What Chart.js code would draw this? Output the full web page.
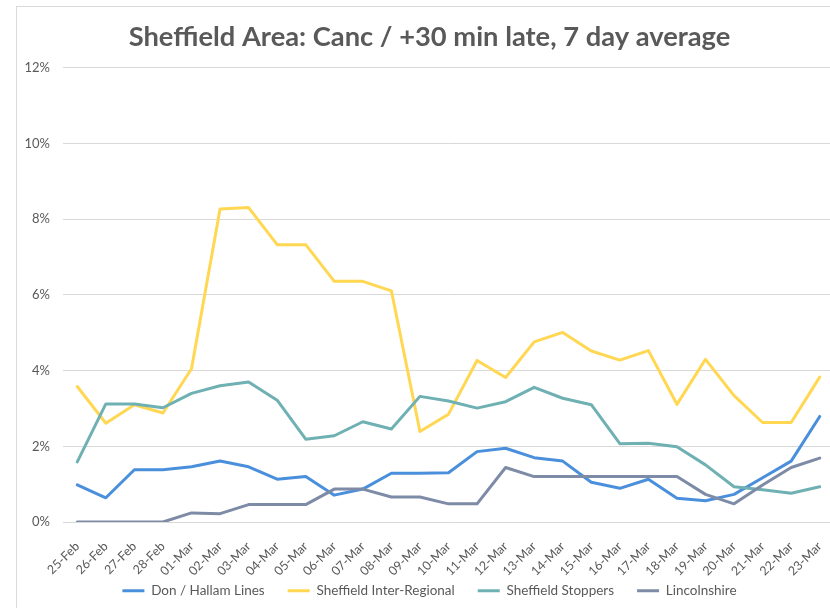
<!DOCTYPE html>
<html>
<head>
<meta charset="utf-8">
<title>Sheffield Area</title>
<script src="https://cdn.jsdelivr.net/npm/chart.js@4.4.1/dist/chart.umd.min.js"></script>
<style>
  html, body { margin: 0; padding: 0; background: #fff; overflow: hidden; }
  #frame { position: absolute; left: 16px; top: 6px; width: 860px; height: 660px; border: 1px solid #d9d9d9; background: #fff; }
  #dataChart { position: absolute; left: 0; top: 0; }
</style>
</head>
<body>
<div id="frame"><canvas id="dataChart" width="830" height="625"></canvas></div>
<script>
// tage (x-achse)
let days = ['25-Feb', '26-Feb', '27-Feb', '28-Feb',
  '01-Mar', '02-Mar', '03-Mar', '04-Mar', '05-Mar', '06-Mar', '07-Mar', '08-Mar',
  '09-Mar', '10-Mar', '11-Mar', '12-Mar', '13-Mar', '14-Mar', '15-Mar', '16-Mar',
  '17-Mar', '18-Mar', '19-Mar', '20-Mar', '21-Mar', '22-Mar', '23-Mar'];

// werte in prozent
let donHallam = [0.98, 0.64, 1.38, 1.38, 1.46, 1.61, 1.46, 1.13, 1.20, 0.71, 0.87, 1.29,
  1.29, 1.30, 1.86, 1.95, 1.70, 1.61, 1.05, 0.89, 1.13, 0.63, 0.56, 0.73, 1.17, 1.61, 2.79];
let interRegional = [3.58, 2.61, 3.10, 2.88, 4.05, 8.27, 8.31, 7.33, 7.33, 6.36, 6.36, 6.11,
  2.39, 2.85, 4.27, 3.82, 4.76, 5.01, 4.52, 4.28, 4.53, 3.11, 4.30, 3.34, 2.63, 2.63, 3.83];
let stoppers = [1.59, 3.12, 3.12, 3.02, 3.40, 3.60, 3.70, 3.22, 2.19, 2.28, 2.65, 2.46,
  3.32, 3.20, 3.01, 3.18, 3.56, 3.27, 3.10, 2.07, 2.08, 1.99, 1.51, 0.93, 0.85, 0.76, 0.93];
let lincolnshire = [0, 0, 0, 0, 0.24, 0.22, 0.46, 0.46, 0.46, 0.87, 0.87, 0.66,
  0.66, 0.48, 0.48, 1.44, 1.20, 1.20, 1.20, 1.20, 1.20, 1.20, 0.73, 0.48, 0.98, 1.44, 1.69];

let yTicks = [0, 2, 4, 6, 8, 10, 12];

let textColor = '#595959';
let chart;

function makeDataset(label, data, color, order) {
  return {
    label: label,
    data: data,
    borderColor: color,
    backgroundColor: color,
    borderWidth: 3,
    pointRadius: 0,
    tension: 0,
    borderJoinStyle: 'round',
    borderCapStyle: 'round',
    order: order
  };
}

// legende etwas naeher an die achse ruecken (padding gilt sonst auch nach oben)
const legendShift = {
  id: 'legendShift',
  afterLayout(c) {
    c.legend.top -= 19;
    c.legend.bottom -= 19;
  }
};

function initializeChart() {
  Chart.defaults.font.family = 'Lato, "Open Sans", sans-serif';
  const ctx = document.getElementById('dataChart').getContext('2d');
  chart = new Chart(ctx, {
    type: 'line',
    data: {
      labels: days,
      datasets: [
        makeDataset('Don / Hallam Lines', donHallam, '#4A8FDC', 4),
        makeDataset('Sheffield Inter-Regional', interRegional, '#FFD752', 3),
        makeDataset('Sheffield Stoppers', stoppers, '#6FB0B3', 2),
        makeDataset('Lincolnshire', lincolnshire, '#7D8BA6', 1)
      ]
    },
    plugins: [legendShift],
    options: {
      responsive: false,
      animation: false,
      layout: { padding: { left: 8, right: 13, top: 0, bottom: 5.5 } },
      plugins: {
        tooltip: { enabled: false },
        title: {
          display: true,
          text: 'Sheffield Area: Canc / +30 min late, 7 day average',
          color: textColor,
          font: { size: 27.3, weight: 'bold' },
          padding: { top: 13.6, bottom: 14.6 }
        },
        legend: {
          position: 'bottom',
          labels: {
            color: textColor,
            font: { size: 13.5 },
            usePointStyle: true,
            pointStyle: 'line',
            pointStyleWidth: 22,
            padding: 23,
            sort: (a, b) => a.datasetIndex - b.datasetIndex
          }
        }
      },
      scales: {
        x: {
          offset: true,
          grid: { display: false },
          border: { display: false },
          ticks: {
            color: textColor,
            font: { size: 12.5 },
            autoSkip: false,
            maxRotation: 45,
            minRotation: 45,
            padding: 9
          },
          afterFit: (s) => { s.height = 58; }
        },
        y: {
          min: 0,
          max: 12,
          afterBuildTicks: (s) => { s.ticks = yTicks.map(v => ({ value: v })); },
          grid: { color: '#d9d9d9', lineWidth: 1, drawTicks: false },
          border: { display: false },
          ticks: {
            color: textColor,
            font: { size: 13 },
            padding: 13,
            callback: (v) => v + '%'
          },
          afterFit: (s) => { s.width = 38; }
        }
      }
    }
  });
}

initializeChart();
</script>
</body>
</html>
